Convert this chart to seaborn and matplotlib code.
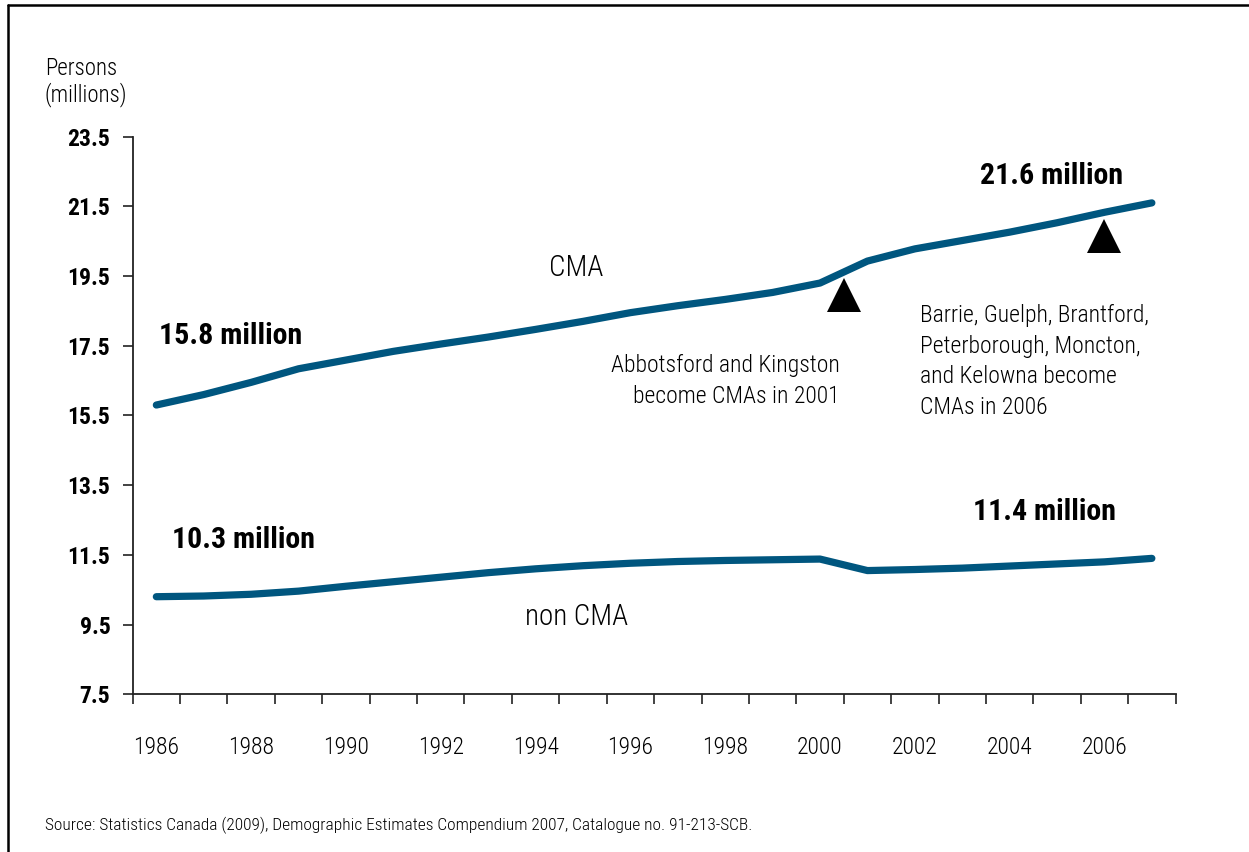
import matplotlib
matplotlib.use("Agg")
import matplotlib.pyplot as plt
from matplotlib.lines import Line2D
import numpy as np
import pandas as pd
import seaborn as sns

# Population living in census metropolitan areas (CMA) and outside them, millions
years = list(range(1986, 2008))
cma = [15.8, 16.1, 16.45, 16.84, 17.09, 17.34, 17.55, 17.75, 17.97, 18.2, 18.45,
       18.65, 18.83, 19.03, 19.3, 19.93, 20.28, 20.52, 20.76, 21.03, 21.33, 21.6]
non_cma = [10.3, 10.32, 10.37, 10.46, 10.6, 10.73, 10.86, 10.99, 11.1, 11.19, 11.26,
           11.31, 11.34, 11.36, 11.38, 11.05, 11.08, 11.12, 11.18, 11.24, 11.3, 11.4]
series_names = ["CMA", "non CMA"]

# New CMAs added to the definition (event year, level of the marker)
event_years = [2000.5, 2006.0]
event_levels = [18.96, 20.65]

y_ticks = [7.5, 9.5, 11.5, 13.5, 15.5, 17.5, 19.5, 21.5, 23.5]
x_labels = list(range(1986, 2007, 2))

LINE = "#00567f"
INK = "black"

sns.set_theme(style="ticks")
FONT = ["Roboto Condensed", "Archivo Narrow", "DejaVu Sans"]
plt.rcParams["font.family"] = FONT
plt.rcParams["text.color"] = INK
plt.rcParams["xtick.color"] = INK
plt.rcParams["ytick.color"] = INK

df = pd.DataFrame({
    "year": years * 2,
    "persons": cma + non_cma,
    "series": [series_names[0]] * len(years) + [series_names[1]] * len(years),
})

fig = plt.figure(figsize=(12.49, 8.52), dpi=100)
ax = fig.add_axes([0.1062, 0.1851, 0.835, 0.6545])

sns.lineplot(data=df, x="year", y="persons", hue="series",
             palette={series_names[0]: LINE, series_names[1]: LINE},
             linewidth=5.2, legend=False, ax=ax, estimator=None)
for ln in ax.lines:
    ln.set_solid_capstyle("round")
    ln.set_solid_joinstyle("round")

ax.plot(event_years, event_levels, linestyle="none", marker="^",
        markersize=25, color="black", markeredgewidth=0)

ax.set_xlim(1985.5, 2007.5)
ax.set_ylim(7.5, 23.5)
ax.set_xlabel("")
ax.set_ylabel("")

ax.set_yticks(y_ticks)
ax.set_yticklabels([f"{v:.1f}" for v in y_ticks], fontweight="bold", fontsize=17)
ax.tick_params(axis="y", length=7, width=1.2, pad=9, color="#222222")

ax.set_xticks(x_labels)
ax.set_xticklabels([str(y) for y in x_labels], fontsize=17, fontweight="light")
ax.set_xticks(np.arange(1985.5, 2008, 1.0), minor=True)
ax.tick_params(axis="x", which="major", length=0, pad=30)
ax.tick_params(axis="x", which="minor", length=7, width=1.2, color="#222222")

for side in ("top", "right"):
    ax.spines[side].set_visible(False)
for side in ("left", "bottom"):
    ax.spines[side].set_linewidth(1.3)
    ax.spines[side].set_color("#222222")

# value callouts
bold = dict(fontsize=21.5, fontweight="bold", color=INK, va="center")
ax.text(1986.06, 17.78, "15.8 million", ha="left", **bold)
ax.text(1986.32, 11.93, "10.3 million", ha="left", **bold)
ax.text(2006.4, 22.37, "21.6 million", ha="right", **bold)
ax.text(2006.25, 12.73, "11.4 million", ha="right", **bold)

ax.text(1994.86, 19.73, "CMA", ha="center", va="center", fontsize=21, fontweight="light")
ax.text(1994.86, 9.72, "non CMA", ha="center", va="center", fontsize=21, fontweight="light")

ax.text(2000.41, 16.48, "Abbotsford and Kingston\nbecome CMAs in 2001",
        ha="right", va="center", fontsize=17, fontweight="light",
        linespacing=1.43, multialignment="right")
ax.text(2002.1, 17.05,
        "Barrie, Guelph, Brantford,\nPeterborough, Moncton,\nand Kelowna become\nCMAs in 2006",
        ha="left", va="center", fontsize=17, fontweight="light", linespacing=1.43)

fig.text(45 / 1249, 1 - 82 / 852, "Persons\n(millions)", ha="left", va="center",
         fontsize=16.5, fontweight="light", linespacing=1.15)
fig.text(45 / 1249, 1 - 825 / 852,
         "Source: Statistics Canada (2009), Demographic Estimates Compendium 2007, "
         "Catalogue no. 91-213-SCB.", ha="left", va="center", fontsize=12.5,
         fontweight="light")

# outer frame lines along the top and left edge
fig.add_artist(Line2D([8 / 1249, 1.0], [1 - 5 / 852, 1 - 5 / 852], color="black",
                      linewidth=1.8, transform=fig.transFigure))
fig.add_artist(Line2D([8 / 1249, 8 / 1249], [1 - 5 / 852, 0.0], color="black",
                      linewidth=1.8, transform=fig.transFigure))

fig.savefig("out.png", dpi=100, facecolor="white")
